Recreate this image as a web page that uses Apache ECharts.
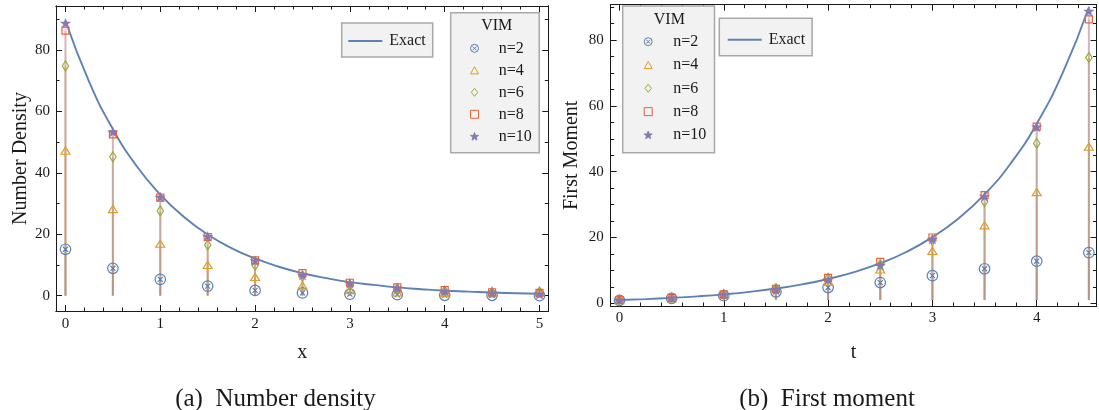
<!DOCTYPE html>
<html><head><meta charset="utf-8">
<script src="https://cdn.jsdelivr.net/npm/echarts@6/dist/echarts.min.js"></script>
<style>
html,body{margin:0;padding:0;background:#fff;}
#wrap{position:relative;width:1099px;height:410px;background:#fff;}
#c1{position:absolute;left:0;top:0;width:550px;height:410px;}
#c2{position:absolute;left:550px;top:0;width:549px;height:410px;}
</style>
</head><body>
<div id="wrap"><div id="c1"></div><div id="c2"></div></div>
<script>
// ---------------- DATA ----------------
const seriesNames = ['n=2', 'n=4', 'n=6', 'n=8', 'n=10'];

// (a) Number density vs x
const xPoints = [0, 0.5, 1, 1.5, 2, 2.5, 3, 3.5, 4, 4.5, 5];
const densN2  = [15.1, 8.9, 5.3, 3.1, 1.7, 0.9, 0.5, 0.3, 0.1, 0.1, 0.0];
const densN4  = [47.2, 28.2, 16.9, 10.0, 6.1, 3.3, 1.8, 1.1, 0.8, 0.9, 1.2];
const densN6  = [74.8, 45.2, 27.6, 16.5, 9.9, 6.4, 3.5, 2.2, 1.5, 1.1, 1.2];
const densN8  = [86.3, 52.5, 31.9, 19.1, 11.5, 7.3, 4.2, 2.7, 1.8, 1.1, 0.9];
const densN10 = [88.7, 53.3, 32.1, 19.3, 11.4, 6.7, 4.0, 2.5, 1.4, 0.8, 0.5];
const densExactX = [0, 0.25, 0.5, 0.75, 1, 1.25, 1.5, 1.75, 2, 2.25, 2.5, 2.75, 3, 3.25, 3.5, 3.75, 4, 4.25, 4.5, 4.75, 5];
const densExactY = [89.5, 69.6, 54.2, 42.2, 32.9, 25.6, 19.9, 15.5, 12.1, 9.4, 7.3, 5.7, 4.4, 3.5, 2.7, 2.1, 1.6, 1.3, 1.0, 0.8, 0.6];
const xTickLabels = [0, 1, 2, 3, 4, 5];
const densTickLabels = [0, 20, 40, 60, 80];

// (b) First moment vs t
const tPoints = [0, 0.5, 1, 1.5, 2, 2.5, 3, 3.5, 4, 4.5];
const momN2  = [0.9, 1.5, 2.3, 3.5, 4.8, 6.3, 8.4, 10.5, 12.8, 15.4];
const momN4  = [1.0, 1.6, 2.8, 4.6, 6.6, 10.3, 15.9, 23.7, 33.8, 47.6];
const momN6  = [1.0, 1.65, 2.7, 4.5, 7.6, 11.8, 19.2, 30.9, 48.6, 74.7];
const momN8  = [1.0, 1.65, 2.7, 4.4, 7.7, 12.6, 20.0, 32.9, 53.7, 86.3];
const momN10 = [1.0, 1.6, 2.7, 4.2, 7.2, 11.6, 19.5, 32.5, 53.6, 88.8];
const momExactT = [0, 0.25, 0.5, 0.75, 1, 1.25, 1.5, 1.75, 2, 2.25, 2.5, 2.75, 3, 3.25, 3.5, 3.75, 4, 4.25, 4.5];
const momExactY = [1.0, 1.28, 1.65, 2.12, 2.72, 3.49, 4.48, 5.75, 7.39, 9.49, 12.2, 15.6, 20.1, 25.8, 33.1, 42.5, 54.6, 70.1, 90.0];
const tTickLabels = [0, 1, 2, 3, 4];
const momTickLabels = [0, 20, 40, 60, 80];

// ---------------- STYLE ----------------
const FONT = '"Liberation Serif","Times New Roman",serif';
const INK = '#1a1a1a';
const COLORS = ['#5E81B5', '#E19C24', '#8FB032', '#EB6235', '#8778B3'];
const SYMBOLS = [
  'path://M2,12A10,10,0,1,1,22,12A10,10,0,1,1,2,12ZM7.2,7.2L16.8,16.8M16.8,7.2L7.2,16.8',
  'path://M10,1L19,17L1,17Z',
  'path://M8,0L16,10L8,20L0,10Z',
  'path://M0,0L10,0L10,10L0,10Z',
  'path://M10,0L12.35,6.9L19.5,6.9L13.8,11.2L15.9,18.1L10,14L4.1,18.1L6.2,11.2L0.5,6.9L7.65,6.9Z'
];
const SIZES = [10.5, [9, 8], [8, 10], 7, 10];
const FILLED = [false, false, false, false, true];

function minorValues(lo, hi, step, majors) {
  const out = [];
  const start = Math.ceil(lo / step - 1e-9);
  for (let k = start; k * step <= hi + 1e-9; k++) {
    const v = +(k * step).toFixed(6);
    if (!majors.some(m => Math.abs(m - v) < 1e-9)) out.push(v);
  }
  return out;
}

function buildOption(c) {
  const lineStyle = { color: INK, width: 1 };
  function ax(pos, min, max, values, len, labels, extra) {
    return Object.assign({
      type: 'value', position: pos, min: min, max: max,
      splitLine: { show: false },
      axisLine: { show: true, onZero: false, lineStyle: lineStyle },
      axisTick: { show: true, inside: true, length: len, customValues: values, lineStyle: lineStyle },
      axisLabel: labels ? Object.assign({ show: true, customValues: values, color: INK, fontFamily: FONT, fontSize: 15 }, labels)
                        : { show: false },
      axisPointer: { show: false }
    }, extra || {});
  }
  const xMinor = minorValues(c.xMin, c.xMax, c.xMinorStep, c.xMajors);
  const yMinor = minorValues(c.yMin, c.yMax, c.yMinorStep, c.yMajors);
  const nameStyle = { fontFamily: FONT, fontSize: 20, color: INK };
  const xAxis = [
    ax('bottom', c.xMin, c.xMax, c.xMajors, 6, { margin: c.xLabelMargin },
       { name: c.xName, nameLocation: 'middle', nameGap: c.xNameGap, nameMoveOverlap: false, nameTextStyle: nameStyle }),
    ax('bottom', c.xMin, c.xMax, xMinor, 3.5, null),
    ax('top', c.xMin, c.xMax, c.xMajors, 6, null),
    ax('top', c.xMin, c.xMax, xMinor, 3.5, null)
  ];
  const yAxis = [
    ax('left', c.yMin, c.yMax, c.yMajors, 6, { margin: c.yLabelMargin },
       { name: c.yName, nameLocation: 'middle', nameGap: c.yNameGap, nameMoveOverlap: false, nameTextStyle: nameStyle }),
    ax('left', c.yMin, c.yMax, yMinor, 3.5, null),
    ax('right', c.yMin, c.yMax, c.yMajors, 6, null),
    ax('right', c.yMin, c.yMax, yMinor, 3.5, null)
  ];

  const series = [];
  c.sets.forEach((vals, i) => {
    const col = COLORS[i];
    series.push({
      type: 'custom', name: 'stem' + i, xAxisIndex: 0, yAxisIndex: 0, silent: true, z: 1,
      data: c.xs.map((x, j) => [x, vals[j]]),
      renderItem: function (params, api) {
        const p1 = api.coord([api.value(0), c.stemBase]);
        const p2 = api.coord([api.value(0), api.value(1)]);
        return { type: 'line', shape: { x1: p1[0], y1: p1[1], x2: p2[0], y2: p2[1] },
                 style: { stroke: col, lineWidth: 2, opacity: 0.3 } };
      }
    });
  });
  series.push({
    type: 'line', name: 'Exact', xAxisIndex: 0, yAxisIndex: 0, z: 2,
    data: c.exactX.map((x, j) => [x, c.exactY[j]]),
    smooth: 0.5, symbol: 'none', showSymbol: false,
    lineStyle: { color: COLORS[0], width: 1.9 }, itemStyle: { color: COLORS[0] }
  });
  c.sets.forEach((vals, i) => {
    const col = COLORS[i];
    series.push({
      type: 'scatter', name: seriesNames[i], xAxisIndex: 0, yAxisIndex: 0, z: 3,
      data: c.xs.map((x, j) => [x, vals[j]]),
      symbol: SYMBOLS[i], symbolSize: SIZES[i], symbolKeepAspect: true,
      itemStyle: { color: FILLED[i] ? col : 'rgba(255,255,255,0)', borderColor: col, borderWidth: FILLED[i] ? 0.5 : 1.2, opacity: 1 }
    });
  });

  const legTxt = { fontFamily: FONT, fontSize: 16, color: INK };
  const legend = [
    Object.assign({
      data: [{ name: 'Exact', icon: 'rect' }], orient: 'vertical', itemWidth: 34, itemHeight: 2, selectedMode: false,
      backgroundColor: '#f2f2f2', borderColor: '#a9a9a9', borderWidth: 1.5, borderRadius: 0,
      textStyle: Object.assign({ padding: [0, 0, 0, 2] }, legTxt)
    }, c.exactLegend),
    Object.assign({
      data: seriesNames, orient: 'vertical', itemWidth: 8, itemHeight: 8, selectedMode: false,
      backgroundColor: '#f2f2f2', borderColor: '#a9a9a9', borderWidth: 1.5, borderRadius: 0,
      itemStyle: { borderWidth: 1 },
      textStyle: Object.assign({ padding: [0, 0, 0, c.vimTextPad] }, legTxt)
    }, c.vimLegend)
  ];

  return {
    animation: false,
    backgroundColor: '#fff',
    grid: { left: c.grid.left, top: c.grid.top, width: c.grid.width, height: c.grid.height, containLabel: false, outerBoundsMode: 'none' },
    xAxis: xAxis, yAxis: yAxis, legend: legend, series: series,
    graphic: [
      { type: 'text', x: c.vimTitle[0], y: c.vimTitle[1], z: 100,
        style: { text: 'VIM', fontFamily: FONT, fontSize: 16, fill: INK, align: 'center', verticalAlign: 'middle' } },
      { type: 'text', x: c.caption[0], y: c.caption[1], z: 100,
        style: { text: c.captionText, fontFamily: FONT, fontSize: 25, fill: INK, align: 'center', verticalAlign: 'middle' } }
    ]
  };
}

const optA = buildOption({
  grid: { left: 56, top: 6, width: 492.3, height: 305 },
  xMin: -0.1, xMax: 5.093, yMin: -5.0, yMax: 94.3,
  xMajors: xTickLabels, yMajors: densTickLabels, xMinorStep: 0.2, yMinorStep: 10,
  xName: 'x', yName: 'Number Density', xNameGap: 32, yNameGap: 25, xLabelMargin: 6, yLabelMargin: 6,
  xs: xPoints, sets: [densN2, densN4, densN6, densN8, densN10], stemBase: 0,
  exactX: densExactX, exactY: densExactY,
  exactLegend: { left: 341.7, top: 23, padding: [10, 7, 8, 6.6] },
  vimLegend: { left: 450.7, top: 12.7, itemGap: 6, padding: [27.6, 7.4, 8.4, 19.3] },
  vimTextPad: 15.3, vimTitle: [496.7, 25.5],
  caption: [275.5, 399], captionText: '(a)  Number density'
});

const optB = buildOption({
  grid: { left: 60.7, top: 4.7, width: 485.8, height: 301.3 },
  xMin: -0.084, xMax: 4.573, yMin: -0.82, yMax: 90.76,
  xMajors: tTickLabels, yMajors: momTickLabels, xMinorStep: 0.2, yMinorStep: 5,
  xName: 't', yName: 'First Moment', xNameGap: 37, yNameGap: 29, xLabelMargin: 5, yLabelMargin: 7,
  xs: tPoints, sets: [momN2, momN4, momN6, momN8, momN10], stemBase: 1,
  exactX: momExactT, exactY: momExactY,
  exactLegend: { left: 169.3, top: 18.3, padding: [13.5, 7, 8, 8.4] },
  vimLegend: { left: 72.7, top: 6, itemGap: 7.3, padding: [27.7, 8.3, 9.8, 21] },
  vimTextPad: 16, vimTitle: [119.3, 19.8],
  caption: [277, 399], captionText: '(b)  First moment'
});

echarts.init(document.getElementById('c1'), null, { renderer: 'canvas' }).setOption(optA);
echarts.init(document.getElementById('c2'), null, { renderer: 'canvas' }).setOption(optB);
</script>
</body></html>
